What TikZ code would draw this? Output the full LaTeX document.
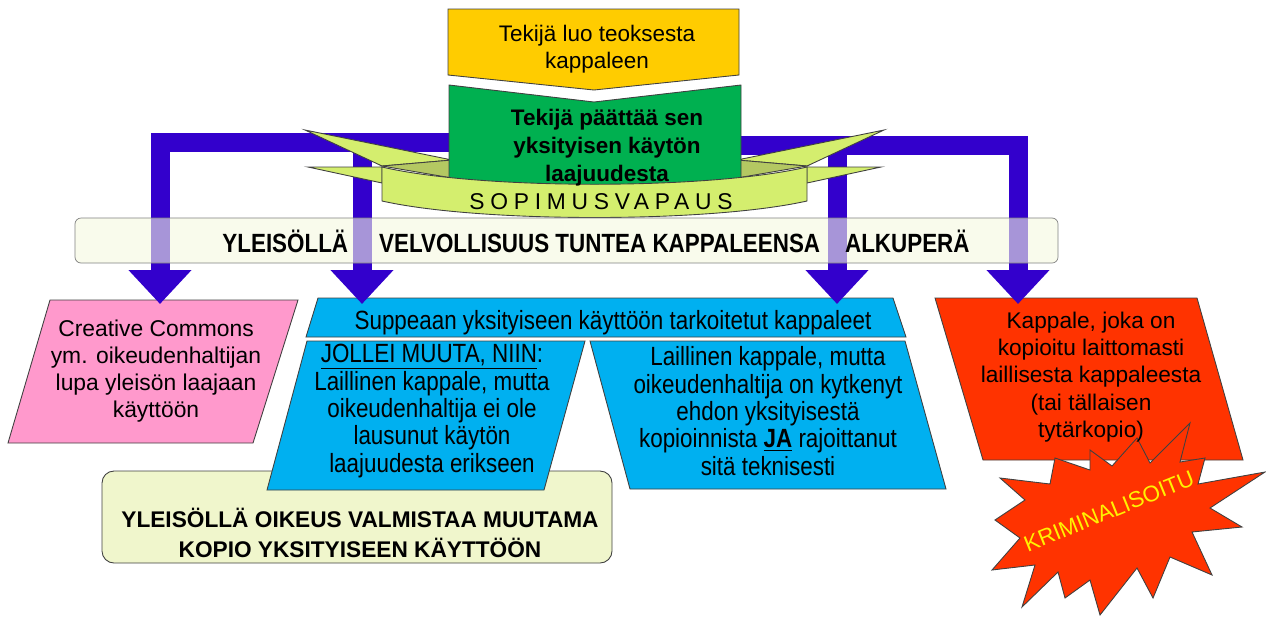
\documentclass[tikz,border=0pt]{standalone}
\usepackage{fontspec}
\setmainfont{Liberation Sans}
\newfontfamily\narrowfont[FakeStretch=0.85]{Liberation Sans}
\newfontfamily\spacedfont[LetterSpace=25]{Liberation Sans}
\usetikzlibrary{positioning,arrows,arrows.meta}

\definecolor{tekija}{HTML}{FFCC00}
\definecolor{paatos}{HTML}{00B050}
\definecolor{nuoli}{HTML}{3300CC}
\definecolor{nauha}{HTML}{D4EE6E}
\definecolor{nauhatumma}{HTML}{B4C862}
\definecolor{vaalea}{HTML}{F5F9E0}
\definecolor{pohja}{HTML}{F0F6CC}
\definecolor{pinkki}{HTML}{FF99CC}
\definecolor{sininen}{HTML}{00B0F0}
\definecolor{punainen}{HTML}{FF3300}

\tikzset{
  outline/.style={draw=black!75,line width=0.5pt},
  bignuoli/.style={draw=nuoli,line width=0.38cm,line join=miter,-{Triangle[width=1.22cm,length=0.68cm]}},
  txt/.style={align=center,inner sep=0pt,font=\fontsize{12.8}{15.4}\selectfont},
  narrowtxt/.style={align=center,inner sep=0pt,font=\narrowfont\fontsize{15}{15.6}\selectfont}
}

\begin{document}
\begin{tikzpicture}[x=0.02cm,y=-0.02cm]
  \useasboundingbox (0,0) rectangle (1266,616);

  \filldraw[outline,fill=pohja,rounded corners=0.24cm] (102,471) rectangle (612,563);
  \node[txt,font=\bfseries\fontsize{12.9}{17}\selectfont] (oikeus) at (360,533) {YLEISÖLLÄ OIKEUS VALMISTAA MUUTAMA\\KOPIO YKSITYISEEN KÄYTTÖÖN};

  \filldraw[outline,fill=pinkki] (50,300) -- (298,300) -- (253,443) -- (8,443) -- cycle;
  \node[txt,font=\fontsize{13}{15.3}\selectfont] (cc) at (156,371) {Creative Commons\\ym. oikeudenhaltijan\\lupa yleisön laajaan\\käyttöön};

  \filldraw[outline,fill=sininen] (318,298) -- (893,298) -- (906,337) -- (306,337) -- cycle;
  \node[narrowtxt] (suppea) at (613,323) {Suppeaan yksityiseen käyttöön tarkoitetut kappaleet};
  \filldraw[outline,fill=sininen] (307,341) -- (585,341) -- (544,490) -- (267,490) -- cycle;
  \node[narrowtxt] (jollei) at (432,411) {\underline{JOLLEI MUUTA, NIIN}:\\Laillinen kappale, mutta\\oikeudenhaltija ei ole\\lausunut käytön\\laajuudesta erikseen};
  \filldraw[outline,fill=sininen] (590,341) -- (905,341) -- (946,489) -- (630,489) -- cycle;
  \node[narrowtxt] (ehto) at (768,411) {Laillinen kappale, mutta\\oikeudenhaltija on kytkenyt\\ehdon yksityisestä\\kopioinnista \underline{\textbf{JA}} rajoittanut\\sitä teknisesti};

  \filldraw[outline,fill=punainen] (935,298) -- (1197,298) -- (1243,460) -- (983,460) -- cycle;
  \filldraw[outline,fill=punainen] (1137,438) -- (1150,463) -- (1190,423) -- (1180,462) -- (1205,458)
    -- (1198,484) -- (1265,472) -- (1210,508) -- (1242,527) -- (1192,532) -- (1212,575)
    -- (1170,557) -- (1153,598) -- (1137,568) -- (1100,615) -- (1090,580) -- (1065,598)
    -- (1058,572) -- (1022,607) -- (1035,565) -- (992,570) -- (1020,538) -- (995,520)
    -- (1025,500) -- (1000,478) -- (1050,484) -- (1055,458) -- (1090,470) -- (1090,450)
    -- (1112,466) -- cycle;
  \node[txt,font=\fontsize{12.9}{15.6}\selectfont] (laiton) at (1091,377) {Kappale, joka on\\kopioitu laittomasti\\laillisesta kappaleesta\\(tai tällaisen\\tytärkopio)};
  \node[txt,text=yellow,rotate=22] (rikos) at (1109,511) {KRIMINALISOITU};

  \coordinate (vasen) at (455,142);
  \coordinate (oikea) at (735,145);
  \coordinate (cc-in) at (160,304);
  \coordinate (oma-in) at (362,304);
  \coordinate (ehto-in) at (837,304);
  \coordinate (laiton-in) at (1018,304);
  \draw[bignuoli] (vasen) -| (cc-in);
  \draw[bignuoli] (vasen) -| (oma-in);
  \draw[bignuoli] (oikea) -| (ehto-in);
  \draw[bignuoli] (oikea) -| (laiton-in);

  \filldraw[outline,fill=nauha] (305,130) -- (452,160) -- (382,166) -- cycle;
  \filldraw[outline,fill=nauhatumma] (382,166) -- (452,160) -- (452,178) -- cycle;
  \filldraw[outline,fill=nauha] (308,167) -- (382,167) -- (382,183) -- cycle;
  \filldraw[outline,fill=nauha] (884,130) -- (737,160) -- (807,166) -- cycle;
  \filldraw[outline,fill=nauhatumma] (807,166) -- (737,160) -- (737,178) -- cycle;
  \filldraw[outline,fill=nauha] (881,167) -- (807,167) -- (807,183) -- cycle;

  \filldraw[outline,fill=paatos] (449,85) -- (594,102) -- (741,85) -- (741,200) -- (449,200) -- cycle;
  \filldraw[outline,fill=nauha] (382,167) .. controls (480,190) and (709,190) .. (807,167)
    -- (807,201) .. controls (709,223) and (480,223) .. (382,201) -- cycle;
  \node[inner sep=0pt,font=\spacedfont\fontsize{13}{14}\selectfont] (sopimus) at (601,202) {SOPIMUSVAPAUS};
  \node[txt,font=\bfseries\fontsize{12.8}{15.9}\selectfont] (paattaa) at (607,148) {Tekijä päättää sen\\yksityisen käytön\\laajuudesta};

  \filldraw[outline,fill=tekija] (448,9) -- (739,9) -- (739,75) -- (594,90) -- (448,75) -- cycle;
  \node[txt] (luo) at (597,49) {Tekijä luo teoksesta\\kappaleen};

  \path[fill=vaalea,fill opacity=0.6,draw=black!50,rounded corners=0.12cm] (75,218) rectangle (1058,263);
  \node[inner sep=0pt,font=\narrowfont\bfseries\fontsize{15}{16}\selectfont] (velvollisuus) at (596,241)
    {YLEISÖLLÄ\hspace{0.62cm}VELVOLLISUUS TUNTEA KAPPALEENSA\hspace{0.5cm}ALKUPERÄ};
\end{tikzpicture}
\end{document}
